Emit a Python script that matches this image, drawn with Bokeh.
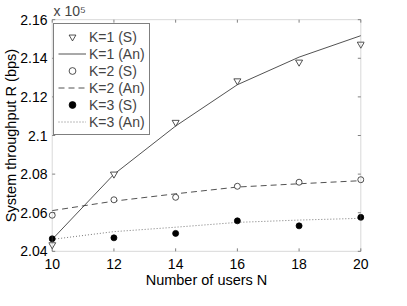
from bokeh.plotting import figure
from bokeh.models import (Range1d, FixedTicker, CustomJSTickFormatter,
                          Legend, LegendItem, BoxAnnotation)
from bokeh.embed import file_html
from bokeh.resources import INLINE

# ---- data (throughput in units of 1e5 bps) ----
users_n = [10, 12, 14, 16, 18, 20]
k1_sim = [2.0434, 2.0800, 2.1068, 2.1283, 2.1380, 2.1473]
k1_an = [2.0462, 2.0799, 2.1049, 2.1263, 2.1406, 2.1517]
k2_sim = [2.0587, 2.0667, 2.0680, 2.0737, 2.0758, 2.0771]
k2_an = [2.0611, 2.0660, 2.0698, 2.0733, 2.0750, 2.0766]
k3_sim = [2.0465, 2.0470, 2.0493, 2.0558, 2.0532, 2.0576]
k3_an = [2.0462, 2.0502, 2.0525, 2.0550, 2.0562, 2.0571]

x_ticks = [10, 12, 14, 16, 18, 20]
y_ticks = [2.04, 2.06, 2.08, 2.10, 2.12, 2.14, 2.16]
x_min, x_max = 10, 20
y_min, y_max = 2.04, 2.16
x_label = "Number of users N"
y_label = "System throughput R (bps)"
exp_text = "x 10\u2075"
legend_names = ["K=1 (S)", "K=1 (An)", "K=2 (S)", "K=2 (An)", "K=3 (S)", "K=3 (An)"]

FONT = "Liberation Sans"
GRAY = "#808080"
INK = "#262626"

pad_x = 0.12
pad_y = 0.0006

p = figure(width=391, height=290,
           x_range=Range1d(x_min - pad_x, x_max + pad_x),
           y_range=Range1d(y_min - pad_y, y_max + pad_y),
           output_backend="svg", toolbar_location=None,
           min_border_left=0, min_border_right=27,
           min_border_top=0, min_border_bottom=0)
p.outline_line_color = None
p.background_fill_color = "white"
p.border_fill_color = "white"
p.xgrid.visible = False
p.ygrid.visible = False

num_fmt = CustomJSTickFormatter(code="return String(Math.round(tick*100)/100);")

for ax, ticks in ((p.xaxis[0], x_ticks), (p.yaxis[0], y_ticks)):
    ax.ticker = FixedTicker(ticks=ticks)
    ax.formatter = num_fmt
    ax.axis_line_color = None
    ax.major_tick_line_color = None
    ax.major_tick_in = 0
    ax.major_tick_out = 0
    ax.minor_tick_line_color = None
    ax.minor_tick_in = 0
    ax.minor_tick_out = 0
    ax.major_label_text_font = FONT
    ax.major_label_text_font_size = "14px"
    ax.major_label_text_color = "black"
    ax.major_label_text_line_height = 1.0
    ax.axis_label_text_font = FONT
    ax.axis_label_text_font_size = "14.5px"
    ax.axis_label_text_font_style = "normal"
    ax.axis_label_text_color = "black"
    ax.axis_label_text_line_height = 1.0

p.xaxis[0].axis_label = x_label
p.xaxis[0].major_label_standoff = 6
p.xaxis[0].axis_label_standoff = 0
p.yaxis[0].axis_label = y_label
p.yaxis[0].major_label_standoff = 1
p.yaxis[0].axis_label_standoff = -2

# exponent as title
p.title.text = exp_text
p.title.text_font = FONT
p.title.text_font_size = "14px"
p.title.text_font_style = "normal"
p.title.text_line_height = 1.0
p.title.align = "left"
p.title.offset = 5
p.title.standoff = 0

# ---- box and inward ticks ----
p.add_layout(BoxAnnotation(left=x_min, right=x_max, bottom=y_min, top=y_max,
                           fill_alpha=0, line_color=GRAY, line_width=1, level="overlay"))
TL = 3
p.ray(x=[x_min] * len(y_ticks), y=y_ticks, length=TL, length_units="screen",
      angle=0, line_color=GRAY, line_width=1)
p.ray(x=[x_max] * len(y_ticks), y=y_ticks, length=TL, length_units="screen",
      angle=3.14159265, line_color=GRAY, line_width=1)
p.ray(x=x_ticks, y=[y_min] * len(x_ticks), length=TL, length_units="screen",
      angle=1.5707963, line_color=GRAY, line_width=1)
p.ray(x=x_ticks, y=[y_max] * len(x_ticks), length=TL, length_units="screen",
      angle=-1.5707963, line_color=GRAY, line_width=1)

# ---- series ----
r1a = p.line(users_n, k1_an, line_color=INK, line_width=0.8)
r1s = p.scatter(users_n, k1_sim, marker="inverted_triangle", size=7,
                fill_color="white", line_color=INK, line_width=0.8)
r2a = p.line(users_n, k2_an, line_color=INK, line_width=0.8, line_dash="6 4")
r2s = p.scatter(users_n, k2_sim, marker="circle", size=6,
                fill_color="white", line_color=INK, line_width=0.8)
r3a = p.line(users_n, k3_an, line_color="#555555", line_width=0.8, line_dash="1 2")
r3s = p.scatter(users_n, k3_sim, marker="circle", size=6,
                fill_color="black", line_color="black", line_width=0.8)

legend = Legend(items=[
    LegendItem(label=legend_names[0], renderers=[r1s]),
    LegendItem(label=legend_names[1], renderers=[r1a]),
    LegendItem(label=legend_names[2], renderers=[r2s]),
    LegendItem(label=legend_names[3], renderers=[r2a]),
    LegendItem(label=legend_names[4], renderers=[r3s]),
    LegendItem(label=legend_names[5], renderers=[r3a]),
], location="top_left")
legend.margin = 5
legend.padding = 4
legend.spacing = 0
legend.label_height = 17
legend.glyph_height = 17
legend.glyph_width = 28
legend.label_standoff = 3
legend.label_text_font = FONT
legend.label_text_font_size = "14px"
legend.border_line_color = "black"
legend.border_line_width = 1
legend.background_fill_color = "white"
legend.background_fill_alpha = 1.0
p.add_layout(legend)

open("out.html", "w").write(file_html(p, INLINE))
